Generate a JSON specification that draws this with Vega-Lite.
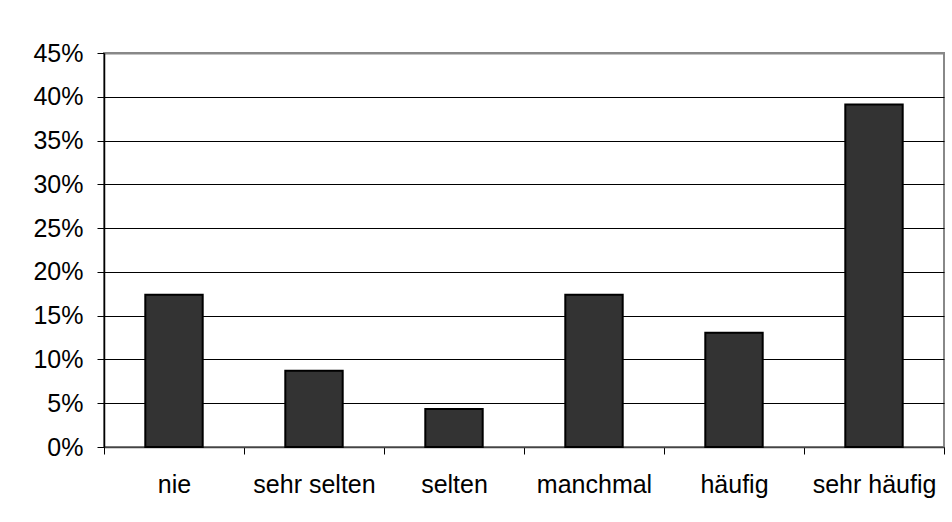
{
  "$schema": "https://vega.github.io/schema/vega-lite/v6.json",
  "width": 840,
  "height": 394,
  "autosize": "none",
  "padding": {"left": 104, "top": 53, "right": 8, "bottom": 75},
  "background": "white",
  "config": {
    "font": "Liberation Sans",
    "view": {"stroke": "#888888", "strokeWidth": 2}
  },
  "data": {
    "values": [
      {"kategorie": "nie", "anteil": 0.1739},
      {"kategorie": "sehr selten", "anteil": 0.0870},
      {"kategorie": "selten", "anteil": 0.0435},
      {"kategorie": "manchmal", "anteil": 0.1739},
      {"kategorie": "häufig", "anteil": 0.1304},
      {"kategorie": "sehr häufig", "anteil": 0.3913}
    ]
  },
  "mark": {"type": "bar", "fill": "#333333", "stroke": "#000000", "strokeWidth": 2, "width": {"band": 0.41}},
  "encoding": {
    "x": {
      "field": "kategorie",
      "type": "nominal",
      "sort": null,
      "scale": {"paddingInner": 0, "paddingOuter": 0},
      "axis": {
        "title": null,
        "labelAngle": 0,
        "labelFontSize": 25,
        "labelColor": "#000000",
        "labelPadding": 18,
        "tickBand": "extent",
        "tickSize": 7,
        "tickColor": "#000000",
        "domainColor": "#444444",
        "domainWidth": 1.5,
        "grid": false
      }
    },
    "y": {
      "field": "anteil",
      "type": "quantitative",
      "scale": {"domain": [0, 0.45], "nice": false},
      "axis": {
        "title": null,
        "values": [0, 0.05, 0.1, 0.15, 0.2, 0.25, 0.3, 0.35, 0.4, 0.45],
        "format": ".0%",
        "labelFontSize": 25,
        "labelColor": "#000000",
        "labelPadding": 14,
        "tickSize": 7,
        "tickColor": "#000000",
        "domainColor": "#000000",
        "domainWidth": 1.5,
        "grid": true,
        "gridColor": {"condition": {"test": "datum.value >= 0.449", "value": "#888888"}, "value": "#000000"},
        "gridWidth": {"condition": {"test": "datum.value >= 0.449", "value": 2}, "value": 1},
        "gridOpacity": 1
      }
    }
  }
}
